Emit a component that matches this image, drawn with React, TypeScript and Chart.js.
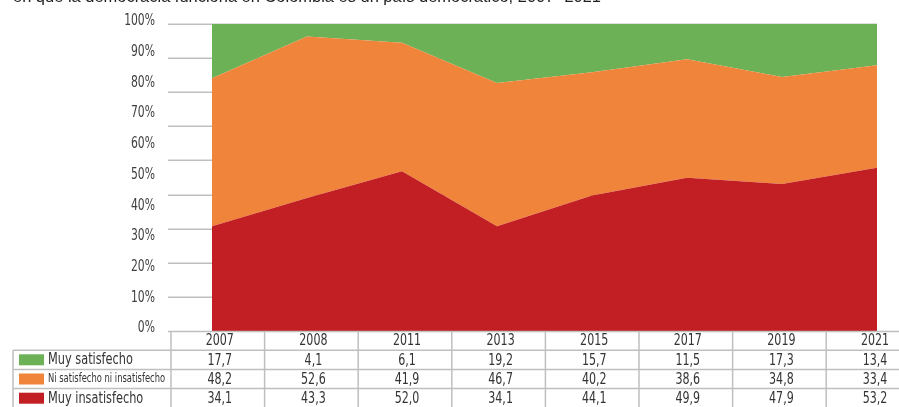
import React, { useEffect, useRef } from 'react';
import { Chart, registerables } from 'chart.js';

Chart.register(...registerables);

const titleText = 'en que la democracia funciona en Colombia es un país democrático, 2007- 2021';
const years = ['2007', '2008', '2011', '2013', '2015', '2017', '2019', '2021'];
const muySatisfecho = [17.7, 4.1, 6.1, 19.2, 15.7, 11.5, 17.3, 13.4];
const niSatisfecho = [48.2, 52.6, 41.9, 46.7, 40.2, 38.6, 34.8, 33.4];
const muyInsatisfecho = [34.1, 43.3, 52.0, 34.1, 44.1, 49.9, 47.9, 53.2];
const seriesNames = ['Muy satisfecho', 'Ni satisfecho ni insatisfecho', 'Muy insatisfecho'];
const seriesColors = ['#6cb155', '#f0843b', '#c21f25'];
const yTickStep = 10;
const gridDivisions = 9;

const FONT = "'DejaVu Sans Condensed', 'DejaVu Sans', sans-serif";
const fmt = (v: number) => v.toFixed(1).replace('.', ',');

function squeezeText(ctx: any, text: string, x: number, y: number, sx: number) {
  ctx.save();
  ctx.translate(x, y);
  ctx.scale(sx, 1);
  ctx.fillText(text, 0, 0);
  ctx.restore();
}

const tablePlugin = {
  id: 'dataTable',
  beforeDatasetsDraw(chart: any) {
    const { ctx, chartArea, scales } = chart;
    const y = scales.y;
    ctx.save();
    ctx.strokeStyle = '#bfbfbf';
    ctx.lineWidth = 1.5;
    for (let k = 1; k <= gridDivisions; k++) {
      const py = Math.round(y.getPixelForValue((k * 100) / gridDivisions)) + 0.25;
      ctx.beginPath();
      ctx.moveTo(168, py);
      ctx.lineTo(chartArea.right, py);
      ctx.stroke();
    }
    ctx.fillStyle = '#404040';
    ctx.font = `15px ${FONT}`;
    ctx.textAlign = 'right';
    ctx.textBaseline = 'middle';
    y.ticks.forEach((t: any) => {
      const py = y.getPixelForValue(t.value) - 2.5;
      squeezeText(ctx, `${t.value}%`, 155, py, 0.8);
    });
    ctx.restore();
  },
  afterDatasetsDraw(chart: any) {
    const { ctx, chartArea, width } = chart;
    ctx.save();
    ctx.fillStyle = '#222';
    ctx.font = "16.5px 'Liberation Sans', sans-serif";
    ctx.textBaseline = 'alphabetic';
    ctx.textAlign = 'left';
    ctx.fillText(titleText, 13, 2, 588);

    const top = chartArea.bottom;
    const rowH = 19.2;
    const colLeft = 171;
    const colW = 93.6;
    const legendLeft = 13;
    ctx.strokeStyle = '#bfbfbf';
    ctx.lineWidth = 1.5;
    ctx.beginPath();
    ctx.moveTo(168, top + 0.5);
    ctx.lineTo(width, top + 0.5);
    ctx.stroke();
    for (let r = 1; r <= 3; r++) {
      const py = top + rowH * r;
      ctx.beginPath();
      ctx.moveTo(legendLeft, py);
      ctx.lineTo(width, py);
      ctx.stroke();
    }
    for (let c = 0; c <= years.length; c++) {
      const px = colLeft + colW * c;
      ctx.beginPath();
      ctx.moveTo(px, top);
      ctx.lineTo(px, chart.height);
      ctx.stroke();
    }
    ctx.beginPath();
    ctx.moveTo(legendLeft, top + rowH);
    ctx.lineTo(legendLeft, chart.height);
    ctx.stroke();

    ctx.fillStyle = '#333';
    ctx.textAlign = 'center';
    ctx.textBaseline = 'middle';
    ctx.font = `15px ${FONT}`;
    const rows = [muySatisfecho, niSatisfecho, muyInsatisfecho];
    years.forEach((yr, i) => {
      const cx = colLeft + colW * (i + 0.5) + 2;
      squeezeText(ctx, yr, cx, top + rowH * 0.5 + 1, 0.82);
      rows.forEach((arr, r) => {
        squeezeText(ctx, fmt(arr[i]), cx, top + rowH * (r + 1.5) + 1, 0.82);
      });
    });

    ctx.textAlign = 'left';
    seriesNames.forEach((name, r) => {
      const cy = top + rowH * (r + 1.5);
      ctx.fillStyle = seriesColors[r];
      ctx.fillRect(19, cy - 5.5, 25, 11);
      ctx.fillStyle = '#333';
      ctx.font = r === 1 ? `11.5px ${FONT}` : `15px ${FONT}`;
      squeezeText(ctx, name, 48, cy + 0.5, r === 1 ? 0.81 : 0.84);
    });
    ctx.restore();
  },
};

export default function App() {
  const ref = useRef<HTMLCanvasElement>(null);
  useEffect(() => {
    if (!ref.current) return;
    const chart = new Chart(ref.current, {
      type: 'line',
      data: {
        labels: years,
        datasets: [
          {
            label: seriesNames[2],
            data: muyInsatisfecho,
            backgroundColor: seriesColors[2],
            borderWidth: 0,
            pointRadius: 0,
            fill: 'origin',
          },
          {
            label: seriesNames[1],
            data: niSatisfecho,
            backgroundColor: seriesColors[1],
            borderWidth: 0,
            pointRadius: 0,
            fill: '-1',
          },
          {
            label: seriesNames[0],
            data: muySatisfecho,
            backgroundColor: seriesColors[0],
            borderWidth: 0,
            pointRadius: 0,
            fill: '-1',
          },
        ],
      },
      options: {
        animation: false,
        responsive: false,
        devicePixelRatio: 1,
        layout: { padding: { left: 0, right: 22, top: 24, bottom: 76 } },
        plugins: { legend: { display: false }, tooltip: { enabled: false } },
        elements: { line: { tension: 0 } },
        scales: {
          x: { type: 'category', display: false, offset: false },
          y: {
            stacked: true,
            min: 0,
            max: 100,
            border: { display: false },
            grid: { display: false, drawTicks: false },
            ticks: { stepSize: yTickStep, display: false, padding: 0 },
            afterFit: (s: any) => {
              s.width = 212;
              s.paddingTop = 0;
              s.paddingBottom = 0;
            },
          },
        },
      },
      plugins: [tablePlugin],
    });
    return () => chart.destroy();
  }, []);
  return (
    <div style={{ position: 'absolute', left: 0, top: 0, width: 899, height: 407, background: '#fff' }}>
      <canvas ref={ref} width={899} height={407} style={{ display: 'block' }} />
    </div>
  );
}
